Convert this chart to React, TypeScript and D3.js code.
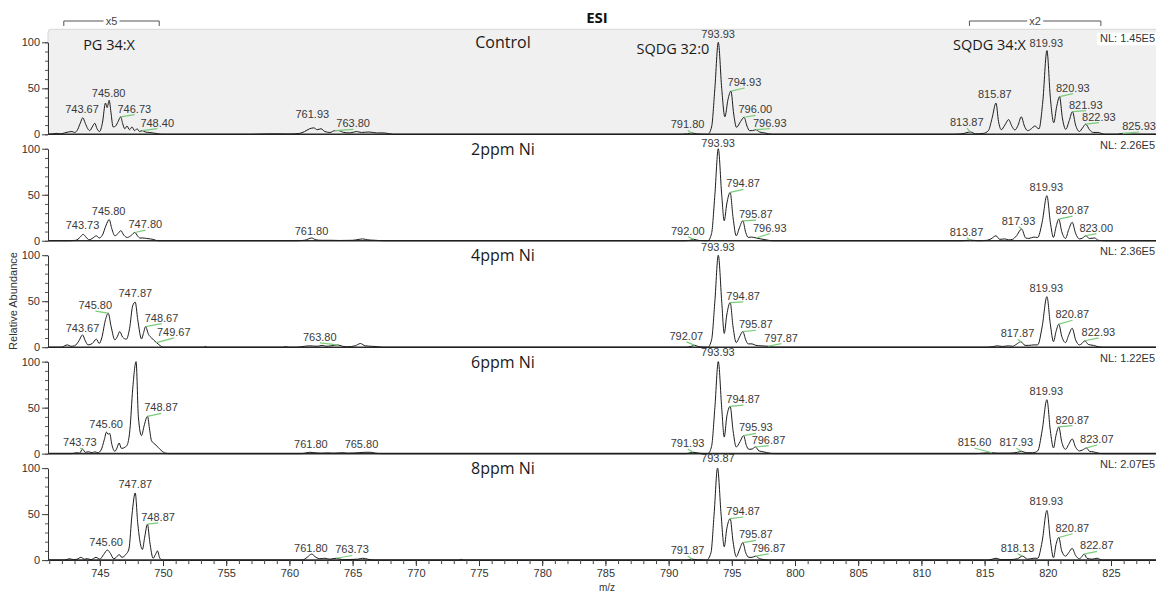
import React, { useRef, useEffect } from "react";
import * as d3 from "d3";

type Pt = [number, number];
// [label text, label centre m/z, label baseline (rel. abundance), draws green leader]
type Lbl = [string, number, number, boolean];

const panelNames = ["Control", "2ppm Ni", "4ppm Ni", "6ppm Ni", "8ppm Ni"];
const normLevels = ["NL: 1.45E5", "NL: 2.26E5", "NL: 2.36E5", "NL: 1.22E5", "NL: 2.07E5"];

const majorMz = d3.range(745, 826, 5);
const minorMz = d3.range(741, 829, 1);
const majorAbund = [0, 50, 100];
const minorAbund = d3.range(0, 101, 10);

// ─── profile traces [m/z, relative abundance] ───────────────────────────
const controlTrace: Pt[] = [
  [740.9, 0], [741.3, 0.5], [741.6, 1], [741.9, 0.5], [742.2, 1.5], [742.5, 2.5], [742.8, 3], [743.0, 2],
  [743.2, 4], [743.45, 12], [743.65, 18], [743.85, 12], [744.05, 6], [744.2, 4], [744.4, 8], [744.6, 12],
  [744.78, 6], [744.98, 3], [745.2, 12], [745.45, 34], [745.58, 29], [745.74, 37], [745.88, 24], [746.05, 8],
  [746.25, 9], [746.45, 14], [746.65, 19], [746.8, 12], [746.98, 6], [747.15, 9], [747.35, 5], [747.55, 8],
  [747.75, 4], [747.95, 6], [748.15, 3], [748.35, 4], [748.6, 2.5], [748.9, 2], [749.2, 1.5], [749.6, 0.5], [750.0, 0],
  [757, 0], [758.5, 0.5], [760, 0.3], [760.8, 1], [761.2, 3], [761.6, 6], [761.93, 7], [762.2, 5], [762.5, 6],
  [762.8, 3], [763.2, 2], [763.6, 4], [763.9, 4], [764.3, 2], [764.8, 1.5], [765.3, 3], [765.7, 2], [766.3, 2.5],
  [766.9, 1.5], [767.5, 1.5], [768.2, 0],
  [790.8, 0], [791.5, 0.5], [791.8, 1.5], [792.2, 0.5], [793.1, 0], [793.4, 8], [793.66, 50], [793.93, 100],
  [794.2, 50], [794.45, 19], [794.7, 38], [794.93, 47], [795.15, 22], [795.37, 7.6], [795.7, 14], [795.97, 18.5],
  [796.2, 9], [796.4, 4], [796.65, 4], [796.9, 5], [797.2, 2.5], [797.6, 1.5], [798.2, 0],
  [812.5, 0], [813.2, 0.5], [813.87, 2.5], [814.3, 0.5], [814.9, 1], [815.3, 4], [815.6, 18], [815.9, 34],
  [816.1, 14], [816.32, 5], [816.6, 10], [816.9, 16], [817.15, 9], [817.4, 4.7], [817.65, 10], [817.9, 19],
  [818.15, 9], [818.4, 4], [818.7, 6], [818.97, 9], [819.3, 6], [819.6, 35], [819.93, 91], [820.2, 40],
  [820.47, 12.6], [820.7, 30], [820.93, 41], [821.15, 18], [821.42, 5.4], [821.7, 15], [821.95, 24.6],
  [822.2, 10], [822.5, 3], [822.75, 7], [823.0, 11], [823.3, 5], [823.59, 2], [823.96, 2], [824.5, 0],
  [825.5, 0], [825.93, 1], [826.4, 0], [828.6, 0],
];

const ni2Trace: Pt[] = [
  [740.9, 0], [742.5, 0], [743.1, 0.5], [743.45, 4], [743.68, 7], [743.9, 4], [744.15, 1], [744.45, 3],
  [744.73, 5.4], [744.95, 3], [745.2, 6], [745.5, 17], [745.74, 23], [745.95, 13], [746.19, 5.4], [746.45, 8],
  [746.66, 11], [746.9, 6], [747.19, 3.6], [747.5, 6], [747.77, 9], [748.0, 5], [748.16, 3], [748.4, 3],
  [748.7, 2.5], [749.0, 2], [749.2, 1.5], [749.6, 0],
  [760.5, 0], [761.2, 0.5], [761.5, 2], [761.75, 3], [762.1, 1], [762.5, 0.5], [763.3, 0.5], [764, 0.3],
  [765, 0.5], [765.5, 1.5], [765.8, 2], [766.2, 1], [766.8, 0.5], [767.5, 0],
  [791.2, 0], [791.7, 0.5], [792.0, 1.5], [792.4, 0.3], [793.1, 0], [793.4, 8], [793.66, 50], [793.93, 100],
  [794.2, 50], [794.4, 21.7], [794.6, 40], [794.87, 52.5], [795.1, 25], [795.35, 5.4], [795.6, 14],
  [795.87, 21.7], [796.1, 9], [796.3, 3.6], [796.55, 4], [796.93, 3], [797.3, 2], [797.7, 1], [798.2, 0],
  [813.2, 0], [813.87, 0.7], [814.5, 0], [815.2, 0.5], [815.5, 2], [815.9, 5.4], [816.2, 1.5], [816.6, 2],
  [816.9, 1], [817.2, 1.5], [817.5, 5], [817.93, 12.7], [818.25, 3], [818.5, 2.5], [818.9, 4], [819.2, 3.5],
  [819.55, 20], [819.93, 49], [820.2, 20], [820.45, 3.6], [820.65, 15], [820.87, 23.5], [821.1, 10],
  [821.4, 2.5], [821.65, 12], [821.93, 20], [822.2, 8], [822.5, 2], [822.75, 3], [823.0, 5.4], [823.3, 2.5],
  [823.7, 3], [824.0, 0.5], [824.5, 0], [828.6, 0],
];

const ni4Trace: Pt[] = [
  [740.9, 0], [742.0, 0], [742.2, 1.5], [742.45, 2.5], [742.7, 1], [743.0, 1.5], [743.35, 7], [743.63, 13.4],
  [743.85, 7], [744.07, 2.5], [744.4, 4], [744.73, 8.7], [744.95, 4], [745.15, 10], [745.45, 30], [745.66, 37],
  [745.9, 22], [746.19, 8], [746.4, 12], [746.58, 17], [746.8, 11], [747.1, 8.7], [747.35, 20], [747.6, 45],
  [747.8, 49], [748.0, 30], [748.3, 9], [748.45, 15], [748.62, 22.4], [748.85, 14], [749.1, 10], [749.48, 5],
  [749.8, 1.5], [750.0, 0],
  [753.2, 0], [753.35, 0.8], [753.5, 0], [759.5, 0], [759.7, 0.8], [759.9, 0], [760.6, 0], [761.2, 1],
  [761.6, 1.5], [762.2, 1], [762.6, 2], [762.9, 1], [763.3, 1.5], [763.8, 2.5], [764.2, 1], [764.6, 0.5],
  [765.2, 1.5], [765.62, 4], [766.0, 1.5], [766.5, 1], [767.0, 0.5], [767.4, 0],
  [791.4, 0], [791.8, 1], [792.07, 2], [792.4, 0.5], [793.1, 0], [793.4, 8], [793.66, 50], [793.93, 100],
  [794.2, 50], [794.4, 15], [794.6, 35], [794.87, 48.5], [795.1, 22], [795.35, 5], [795.6, 11], [795.87, 17],
  [796.1, 8], [796.3, 3.6], [796.6, 3.6], [796.9, 2], [797.3, 1.5], [797.87, 1], [798.3, 0],
  [815.0, 0], [815.6, 0.5], [816.0, 1.5], [816.4, 0.8], [816.9, 1.5], [817.2, 1], [817.5, 3], [817.87, 6],
  [818.2, 2], [818.5, 2], [818.9, 2.5], [819.2, 2.5], [819.55, 22], [819.93, 55], [820.2, 25], [820.45, 6],
  [820.65, 17], [820.87, 25], [821.1, 12], [821.4, 5], [821.65, 13], [821.93, 20.6], [822.2, 8], [822.5, 2.5],
  [822.7, 4], [822.93, 7], [823.2, 3], [823.6, 2], [824.0, 0.5], [824.4, 0], [828.6, 0],
];

const ni6Trace: Pt[] = [
  [740.9, 0], [742.8, 0], [743.16, 1], [743.4, 0.5], [743.63, 5], [743.85, 1.5], [744.1, 2], [744.4, 1],
  [744.6, 2], [744.85, 1], [745.1, 4], [745.35, 15], [745.53, 23.5], [745.65, 21], [745.78, 22], [745.95, 10],
  [746.19, 2.5], [746.35, 6], [746.53, 11.6], [746.7, 5.8], [746.85, 6], [746.98, 7], [747.15, 9],
  [747.38, 26], [747.6, 70], [747.87, 100], [748.05, 40], [748.3, 19.6], [748.5, 30], [748.77, 40.6],
  [748.95, 25], [749.09, 14], [749.35, 10.5], [749.6, 7], [749.85, 3.6], [750.2, 0.5], [750.5, 0],
  [761.0, 0], [761.6, 1.5], [762.0, 1], [762.5, 0.5], [763.0, 0.8], [763.5, 0.5], [764.2, 1], [764.6, 0.5],
  [765.5, 1], [766.0, 1.5], [766.4, 1.5], [766.8, 0.5], [767.3, 0],
  [791.4, 0], [791.93, 1.5], [792.4, 0.5], [793.1, 0], [793.4, 8], [793.66, 50], [793.93, 100], [794.2, 50],
  [794.4, 18], [794.6, 40], [794.87, 51.4], [795.1, 25], [795.35, 7.2], [795.65, 13], [795.93, 19.6],
  [796.15, 9], [796.35, 4.7], [796.6, 5], [796.87, 7.2], [797.15, 3], [797.5, 2], [798.0, 0.5], [798.4, 0],
  [814.3, 0], [814.9, 0.5], [815.6, 1], [816.0, 0.5], [817.0, 0.5], [817.6, 1.5], [817.93, 2.5], [818.3, 1],
  [818.8, 1], [819.2, 3], [819.55, 25], [819.93, 58.7], [820.2, 25], [820.45, 6.2], [820.65, 20],
  [820.87, 29], [821.1, 13], [821.4, 4.7], [821.65, 10], [821.93, 16], [822.2, 7], [822.5, 3], [822.75, 4],
  [823.07, 6.2], [823.3, 2.5], [823.6, 2], [824.0, 0.5], [824.4, 0], [828.6, 0],
];

const ni8Trace: Pt[] = [
  [740.9, 0], [742.2, 0], [742.6, 1.5], [742.9, 0.5], [743.2, 1], [743.5, 3], [743.8, 1], [744.0, 1.5],
  [744.3, 0.5], [744.7, 3], [745.0, 1], [745.3, 6], [745.6, 10.9], [745.85, 7], [746.1, 1.4], [746.3, 3],
  [746.53, 6], [746.75, 3], [747.05, 6], [747.3, 12], [747.55, 50], [747.8, 73], [748.0, 40], [748.37, 11.6],
  [748.55, 25], [748.77, 39], [748.95, 20], [749.22, 2], [749.4, 6], [749.56, 10], [749.75, 2], [750.0, 0],
  [761.0, 0], [761.4, 3], [761.75, 6.5], [762.1, 3], [762.4, 1.5], [762.8, 2], [763.2, 1], [763.7, 2],
  [764.2, 0.5], [765.4, 1], [765.8, 2], [766.2, 1], [766.7, 0],
  [773.4, 0], [773.6, 0.8], [773.8, 0],
  [791.4, 0], [791.87, 1], [792.3, 0.3], [793.0, 0], [793.35, 8], [793.6, 50], [793.87, 100], [794.15, 50],
  [794.4, 14.5], [794.6, 34], [794.87, 45], [795.1, 20], [795.35, 3.6], [795.6, 11], [795.87, 19], [796.1, 8],
  [796.35, 3], [796.6, 3], [796.87, 4.3], [797.2, 1.5], [797.6, 0.5], [798.0, 0],
  [815.2, 0], [815.6, 1], [815.9, 2], [816.3, 0.5], [817.0, 0.5], [817.6, 1.5], [818.0, 4.3], [818.4, 1],
  [818.9, 2], [819.2, 2], [819.55, 20], [819.93, 54], [820.2, 22], [820.45, 2.5], [820.65, 17], [820.87, 24.6],
  [821.1, 10], [821.4, 4.3], [821.65, 8], [821.93, 12.7], [822.2, 5], [822.5, 1.5], [822.65, 3], [822.87, 6.5],
  [823.1, 2], [823.5, 1], [823.9, 2], [824.3, 0], [828.6, 0],
];

// ─── peak annotations ────────────────────────────────────────────────────
const controlLabels: Lbl[] = [
  ["743.67", 743.59, 23, false], ["745.80", 745.7, 41, false], ["746.73", 747.73, 23.5, true],
  ["748.40", 749.54, 8.3, true], ["761.93", 761.81, 17.4, false], ["763.80", 765.04, 7.6, true],
  ["791.80", 791.5, 6.5, true], ["793.93", 793.92, 105, false], ["794.93", 796.0, 52.5, true],
  ["796.00", 796.86, 22.8, true], ["796.93", 798.0, 8.3, true], ["813.87", 813.59, 9, true],
  ["815.87", 815.81, 39.8, false], ["819.93", 819.88, 95.2, false], ["820.93", 821.98, 46.3, true],
  ["821.93", 823.0, 28, true], ["822.93", 824.04, 14.8, true], ["825.93", 827.22, 4.7, true],
];
const ni2Labels: Lbl[] = [
  ["743.73", 743.63, 12.7, false], ["745.80", 745.7, 28.3, false], ["747.80", 748.6, 13.8, true],
  ["761.80", 761.75, 6.5, false], ["792.00", 791.52, 6.5, true], ["793.93", 793.92, 102, false],
  ["794.87", 795.9, 58, true], ["795.87", 796.9, 24.7, true], ["796.93", 798.0, 10, true],
  ["813.87", 813.57, 5.4, true], ["817.93", 817.68, 17.4, true], ["819.93", 819.88, 53.6, false],
  ["820.87", 821.94, 29, true], ["823.00", 823.83, 10, true],
];
const ni4Labels: Lbl[] = [
  ["743.67", 743.63, 17, false], ["745.80", 744.64, 41.3, true], ["747.87", 747.81, 54.3, false],
  ["748.67", 749.88, 27.8, true], ["749.67", 750.85, 12.3, true], ["763.80", 762.4, 6.8, true],
  ["792.07", 791.4, 8, true], ["793.93", 793.9, 105, false], ["794.87", 795.9, 51.4, true],
  ["795.87", 796.9, 20.6, true], ["797.87", 798.9, 6.1, true], ["817.87", 817.6, 10.9, true],
  ["819.93", 819.88, 60.4, false], ["820.87", 821.94, 31.5, true], ["822.93", 824.0, 12.3, true],
];
const ni6Labels: Lbl[] = [
  ["743.73", 743.42, 8, true], ["745.60", 745.5, 28, false], ["748.87", 749.84, 46, true],
  ["761.80", 761.7, 6.2, false], ["765.80", 765.7, 6.2, false], ["791.93", 791.5, 7.2, true],
  ["793.93", 793.9, 106.5, false], ["794.87", 795.9, 55, true], ["795.93", 796.9, 24.3, true],
  ["796.87", 797.9, 10.9, true], ["815.60", 814.2, 8, true], ["817.93", 817.5, 8, true],
  ["819.93", 819.88, 64, false], ["820.87", 821.94, 32.6, true], ["823.07", 823.88, 11.6, true],
];
const ni8Labels: Lbl[] = [
  ["745.60", 745.5, 15.2, false], ["747.87", 747.81, 78, false], ["748.87", 749.61, 42.7, true],
  ["761.80", 761.7, 9, false], ["763.73", 764.95, 7.2, true], ["791.87", 791.5, 6.5, true],
  ["793.87", 793.9, 107, false], ["794.87", 795.9, 49, true], ["795.87", 796.9, 23.6, true],
  ["796.87", 797.9, 9, true], ["818.13", 817.6, 9, true], ["819.93", 819.88, 59.8, false],
  ["820.87", 821.94, 30.8, true], ["822.87", 823.88, 11.6, true],
];

const traces = [controlTrace, ni2Trace, ni4Trace, ni6Trace, ni8Trace];
const peakLabels = [controlLabels, ni2Labels, ni4Labels, ni6Labels, ni8Labels];

// magnified windows in the control scan
const magnified = [
  { from: 742.15, to: 749.7, text: "x5" },
  { from: 813.8, to: 824.2, text: "x2" },
];
// lipid class tags (control panel), left edge m/z + baseline abundance
const lipidTags: [string, number, number][] = [
  ["PG 34:X", 743.68, 91.6],
  ["SQDG 32:0", 787.46, 87],
  ["SQDG 34:X", 812.5, 91.6],
];

const App = () => {
  const svgRef = useRef<SVGSVGElement>(null);

  useEffect(() => {
    const width = 1156;
    const height = 594;
    const marginLeft = 48;
    const firstBase = 134.3;
    const panelStep = 106.45;
    const panelHeight = 92;
    const labelFont = "'Liberation Sans', Arial, sans-serif";
    const titleFont = "'Open Sans', 'Noto Sans', sans-serif";

    const svg = d3.select(svgRef.current).attr("width", width).attr("height", height);
    svg.selectAll("*").remove();

    svg.append("rect").attr("width", width).attr("height", height).attr("fill", "#ffffff");

    const x = d3.scaleLinear().domain([740.9, 828.56]).range([marginLeft, width]);

    // ─── control panel shading ──────────────────────────────────────────
    svg.append("rect")
      .attr("x", marginLeft).attr("y", 29.3)
      .attr("width", width - marginLeft + 4).attr("height", firstBase - 29.3)
      .attr("rx", 3)
      .attr("fill", "#f0f0f0").attr("stroke", "#d6d6d6");

    // ─── title + magnification brackets ─────────────────────────────────
    svg.append("text")
      .attr("x", 597).attr("y", 23)
      .attr("text-anchor", "middle")
      .style("font-family", titleFont).style("font-size", "15px").style("font-weight", "700")
      .attr("fill", "#111").text("ESI");

    magnified.forEach((m) => {
      const x0 = x(m.from), x1 = x(m.to), xm = (x0 + x1) / 2;
      svg.append("path")
        .attr("d", `M${x0},26V21H${x1}V26`)
        .attr("fill", "none").attr("stroke", "#555").attr("stroke-width", 1);
      svg.append("rect").attr("x", xm - 8).attr("y", 15).attr("width", 16).attr("height", 12).attr("fill", "#fff");
      svg.append("text")
        .attr("x", xm).attr("y", 25)
        .attr("text-anchor", "middle")
        .style("font-family", labelFont).style("font-size", "11px")
        .attr("fill", "#444").text(m.text);
    });

    const line = d3.line<Pt>().curve(d3.curveMonotoneX);

    traces.forEach((trace, i) => {
      const base = firstBase + panelStep * i;
      const y = d3.scaleLinear().domain([0, 100]).range([base, base - panelHeight]);
      const g = svg.append("g");

      // baseline
      g.append("line")
        .attr("x1", marginLeft).attr("x2", width)
        .attr("y1", base).attr("y2", base)
        .attr("stroke", "#2a2a2a").attr("stroke-width", 1.6);

      // spectrum
      line.x((d) => x(d[0])).y((d) => y(d[1]));
      g.append("path")
        .datum(trace)
        .attr("fill", "none")
        .attr("stroke", "#1c1c1c")
        .attr("stroke-width", 1)
        .attr("stroke-linejoin", "round")
        .attr("d", line);

      // y axis
      const ax = g.append("g").attr("transform", `translate(${marginLeft},0)`);
      ax.call(d3.axisLeft(y).tickValues(minorAbund).tickSize(3).tickSizeOuter(0).tickFormat(() => ""));
      ax.call((s) => s.select(".domain").attr("stroke", "#333"));
      ax.selectAll(".tick line").attr("stroke", "#555");
      const axMaj = g.append("g").attr("transform", `translate(${marginLeft},0)`);
      axMaj.call(d3.axisLeft(y).tickValues(majorAbund).tickSize(6).tickSizeOuter(0).tickPadding(2));
      axMaj.select(".domain").remove();
      axMaj.selectAll(".tick line").attr("stroke", "#444");
      axMaj.selectAll("text")
        .attr("fill", "#333")
        .style("font-family", labelFont).style("font-size", "11px");

      // peak labels + green leaders
      peakLabels[i].forEach(([text, lm, lv, lead]) => {
        const mz = parseFloat(text);
        if (lead) {
          const near = trace.filter((p) => Math.abs(p[0] - mz) <= 0.3);
          const apex = near.length ? near.reduce((a, b) => (b[1] > a[1] ? b : a)) : [mz, 0];
          const left = x(lm) - 16.8;
          g.append("line")
            .attr("x1", x(apex[0])).attr("y1", y(apex[1]))
            .attr("x2", left + 17).attr("y2", y(lv) + 2)
            .attr("stroke", "#78cc78").attr("stroke-width", 1.2);
        }
        g.append("text")
          .attr("x", x(lm)).attr("y", y(lv))
          .attr("text-anchor", "middle")
          .style("font-family", labelFont).style("font-size", "11px")
          .attr("fill", "#3a3a3a")
          .text(text);
      });

      // normalisation level
      if (i === 0) {
        svg.append("rect")
          .attr("x", 1097).attr("y", y(100) - 9.6)
          .attr("width", 62).attr("height", 12.5)
          .attr("fill", "#ffffff");
      }
      svg.append("text")
        .attr("x", 1100).attr("y", y(100))
        .style("font-family", labelFont).style("font-size", "11px")
        .attr("fill", "#333")
        .text(normLevels[i]);

      // treatment name
      svg.append("text")
        .attr("x", 503).attr("y", y(100) + 6)
        .attr("text-anchor", "middle")
        .style("font-family", titleFont).style("font-size", "16px")
        .attr("fill", "#1a1a1a")
        .text(panelNames[i]);

      if (i === 0) {
        lipidTags.forEach(([t, m, v]) => {
          svg.append("text")
            .attr("x", x(m)).attr("y", y(v))
            .style("font-family", titleFont).style("font-size", "14.5px")
            .attr("fill", "#1a1a1a")
            .text(t);
        });
      }

      // m/z axis on the bottom panel only
      if (i === traces.length - 1) {
        const xMinor = g.append("g").attr("transform", `translate(0,${base})`);
        xMinor.call(d3.axisBottom(x).tickValues(minorMz).tickSize(4).tickSizeOuter(0).tickFormat(() => ""));
        xMinor.select(".domain").remove();
        xMinor.selectAll(".tick line").attr("stroke", "#444");
        const xMajor = g.append("g").attr("transform", `translate(0,${base})`);
        xMajor.call(d3.axisBottom(x).tickValues(majorMz).tickSize(6).tickSizeOuter(0).tickPadding(3));
        xMajor.select(".domain").remove();
        xMajor.selectAll(".tick line").attr("stroke", "#333");
        xMajor.selectAll("text")
          .attr("fill", "#333")
          .style("font-family", labelFont).style("font-size", "11px");
      }
    });

    svg.append("text")
      .attr("x", 607).attr("y", 591)
      .attr("text-anchor", "middle")
      .style("font-family", labelFont).style("font-size", "10px")
      .attr("fill", "#333")
      .text("m/z");

    svg.append("text")
      .attr("transform", "translate(16.5,301) rotate(-90)")
      .attr("text-anchor", "middle")
      .style("font-family", labelFont).style("font-size", "11px")
      .attr("fill", "#333")
      .text("Relative Abundance");
  }, []);

  return (
    <svg
      ref={svgRef}
      style={{ position: "absolute", left: 0, top: 0, display: "block" }}
    />
  );
};

export default App;
